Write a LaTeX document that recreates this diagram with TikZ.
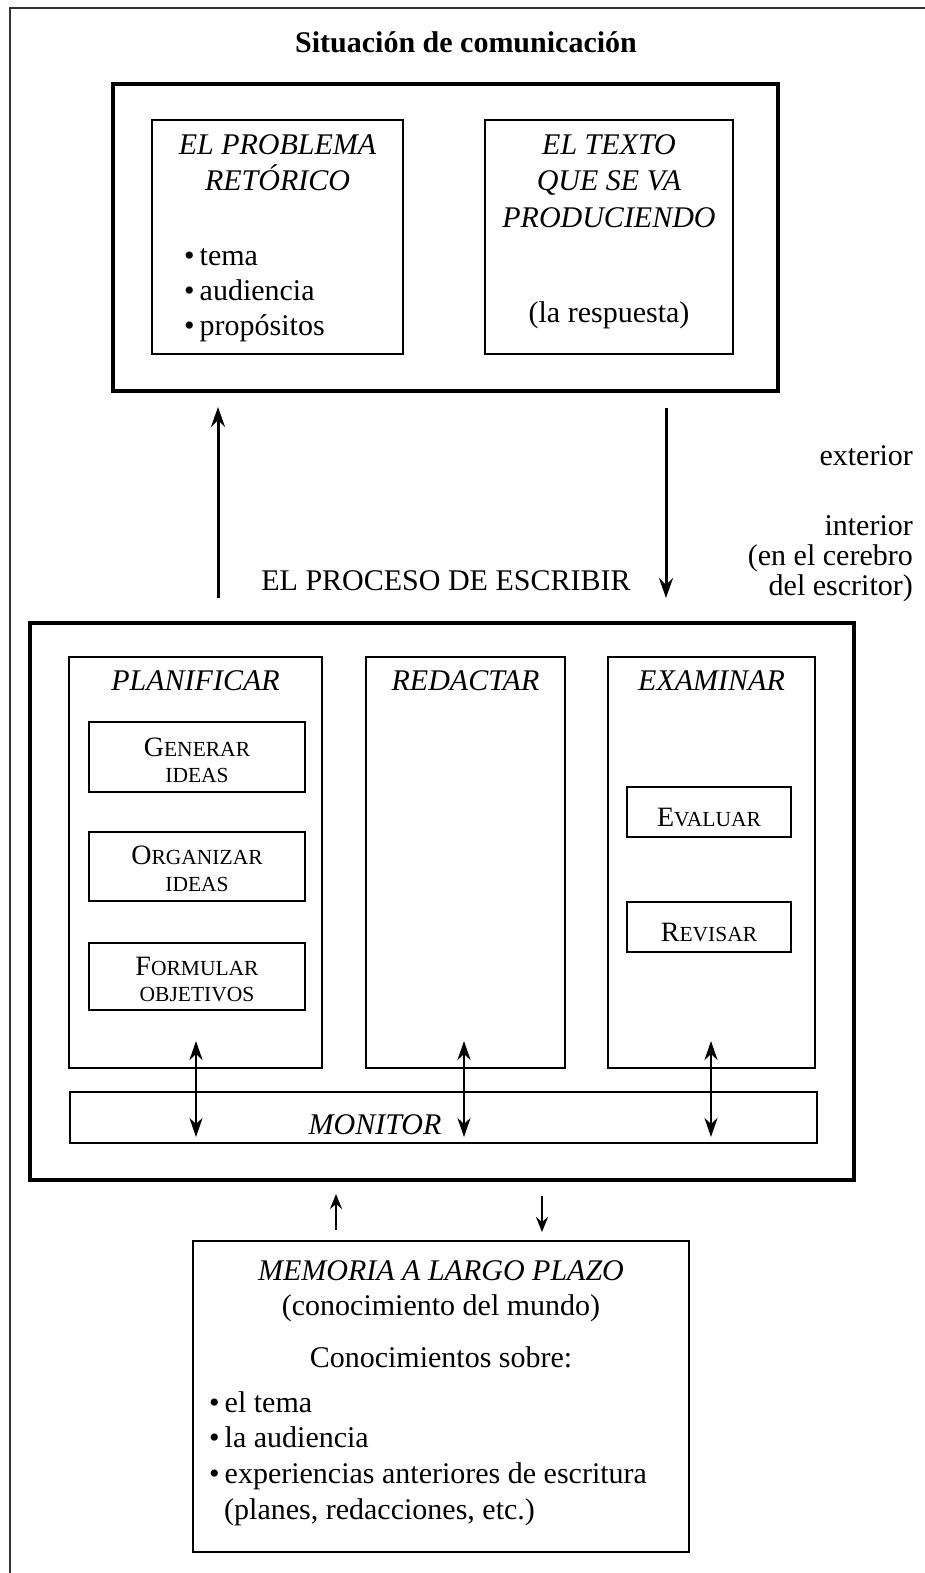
\documentclass[tikz,border=0pt]{standalone}
\usepackage{fontspec}
\setmainfont{Liberation Serif}
\usetikzlibrary{arrows.meta}

% word in small capitals: initial letter, then the reduced capitals
\newcommand{\scword}[2]{{\fontsize{28}{30}\selectfont #1}{\fontsize{21.5}{24}\selectfont #2}}
% rectangle node given by its two corners (name, style, x1, y1, x2, y2)
\newcommand{\rbox}[6]{\node[#2, minimum width={(#5)-(#3)}, minimum height={(#6)-(#4)}] (#1) at ({((#3)+(#5))/2},{((#4)+(#6))/2}) {};}

\begin{document}
\begin{tikzpicture}[x=1pt,y=-1pt,
  thinbox/.style={draw, line width=1.7pt, inner sep=0pt},
  thickbox/.style={draw, line width=4pt, inner sep=0pt},
  lbl/.style={inner sep=0pt, anchor=base, font=\fontsize{30}{35}\selectfont},
  ilbl/.style={lbl, font=\fontsize{30}{35}\selectfont\itshape},
  blbl/.style={lbl, font=\fontsize{30}{35}\selectfont\bfseries},
  llbl/.style={lbl, anchor=base west},
  rlbl/.style={lbl, anchor=base east},
  bigarrow/.style={-{Stealth[length=20pt,width=14pt,inset=7pt]}, line width=3pt},
  dblarrow/.style={{Stealth[length=19pt,width=13pt,inset=6pt]}-{Stealth[length=19pt,width=13pt,inset=6pt]}, line width=2.6pt},
  smallarrow/.style={-{Stealth[length=15pt,width=12pt,inset=5pt]}, line width=2.6pt}
]
\useasboundingbox (0,0) rectangle (925,1573);

% page frame
\draw[line width=2pt, draw=black!80] (10,1573) -- (10,8) -- (925,8);

% ---------- communication situation ----------
\node[blbl] (title) at (466,53) {Situación de comunicación};
\rbox{sit}{thickbox}{113}{84}{778}{391}
\rbox{prob}{thinbox}{152}{120}{403}{354}
\rbox{texto}{thinbox}{485}{120}{733}{354}

\node[ilbl] (prob1) at (277.5,155) {EL PROBLEMA};
\node[ilbl] (prob2) at (277.5,191) {RETÓRICO};
\node[llbl] (probA) at (184,265) {•\,tema};
\node[llbl] (probB) at (184,300) {•\,audiencia};
\node[llbl] (probC) at (184,335) {•\,propósitos};

\node[ilbl] (texto1) at (609,155) {EL TEXTO};
\node[ilbl] (texto2) at (609,191) {QUE SE VA};
\node[ilbl] (texto3) at (609,227) {PRODUCIENDO};
\node[lbl] (texto4) at (609,322) {(la respuesta)};

% ---------- exterior / interior ----------
\node[rlbl] (ext) at (913,465) {exterior};
\node[rlbl] (int1) at (913,535) {interior};
\node[rlbl] (int2) at (913,565) {(en el cerebro};
\node[rlbl] (int3) at (913,595) {del escritor)};

\node[lbl] (proceso) at (446,590) {EL PROCESO DE ESCRIBIR};

\coordinate (upA) at (218,598);
\coordinate (upB) at (218,407);
\coordinate (dnA) at (666,408);
\coordinate (dnB) at (666,598);
\draw[bigarrow] (upA) -- (upB);
\draw[bigarrow] (dnA) -- (dnB);

% ---------- writing process ----------
\rbox{proc}{thickbox}{29.5}{623}{854}{1180}
\rbox{plan}{thinbox}{69}{657}{322}{1068}
\rbox{red}{thinbox}{366}{657}{565}{1068}
\rbox{exam}{thinbox}{608}{657}{815}{1068}

\node[ilbl] (planT) at (195.5,690) {PLANIFICAR};
\node[ilbl] (redT) at (465.5,690) {REDACTAR};
\node[ilbl] (examT) at (711.5,690) {EXAMINAR};

\rbox{gen}{thinbox}{89}{722}{305}{792}
\rbox{org}{thinbox}{89}{832}{305}{901}
\rbox{form}{thinbox}{89}{943}{305}{1010}
\node[lbl] (gen1) at (197,756) {\scword{G}{ENERAR}};
\node[lbl] (gen2) at (197,782) {\scword{}{IDEAS}};
\node[lbl] (org1) at (197,864) {\scword{O}{RGANIZAR}};
\node[lbl] (org2) at (197,891) {\scword{}{IDEAS}};
\node[lbl] (form1) at (197,975) {\scword{F}{ORMULAR}};
\node[lbl] (form2) at (197,1001) {\scword{}{OBJETIVOS}};

\rbox{eval}{thinbox}{627}{787}{791}{837}
\rbox{rev}{thinbox}{627}{902}{791}{952}
\node[lbl] (evalT) at (709,826) {\scword{E}{VALUAR}};
\node[lbl] (revT) at (709,941) {\scword{R}{EVISAR}};

\rbox{mon}{thinbox}{70}{1092}{817}{1143}
\node[ilbl] (monT) at (375,1134) {MONITOR};

\coordinate (p1) at (196,1041);
\coordinate (m1) at (196,1137);
\coordinate (p2) at (464,1041);
\coordinate (m2) at (464,1137);
\coordinate (p3) at (711,1041);
\coordinate (m3) at (711,1137);
\draw[dblarrow] (p1) -- (m1);
\draw[dblarrow] (p2) -- (m2);
\draw[dblarrow] (p3) -- (m3);

% ---------- long-term memory ----------
\coordinate (mupA) at (336,1230);
\coordinate (mupB) at (336,1194);
\coordinate (mdnA) at (542,1196);
\coordinate (mdnB) at (542,1232);
\draw[smallarrow] (mupA) -- (mupB);
\draw[smallarrow] (mdnA) -- (mdnB);

\rbox{mem}{thinbox}{193}{1241}{689}{1552}
\node[ilbl] (mem1) at (441,1280) {MEMORIA A LARGO PLAZO};
\node[lbl] (mem2) at (441,1315) {(conocimiento del mundo)};
\node[lbl] (mem3) at (441,1367) {Conocimientos sobre:};
\node[llbl] (memA) at (209,1412) {•\,el tema};
\node[llbl] (memB) at (209,1447) {•\,la audiencia};
\node[llbl] (memC) at (209,1483) {•\,experiencias anteriores de escritura};
\node[llbl] (memD) at (224,1519) {(planes, redacciones, etc.)};
\end{tikzpicture}
\end{document}
